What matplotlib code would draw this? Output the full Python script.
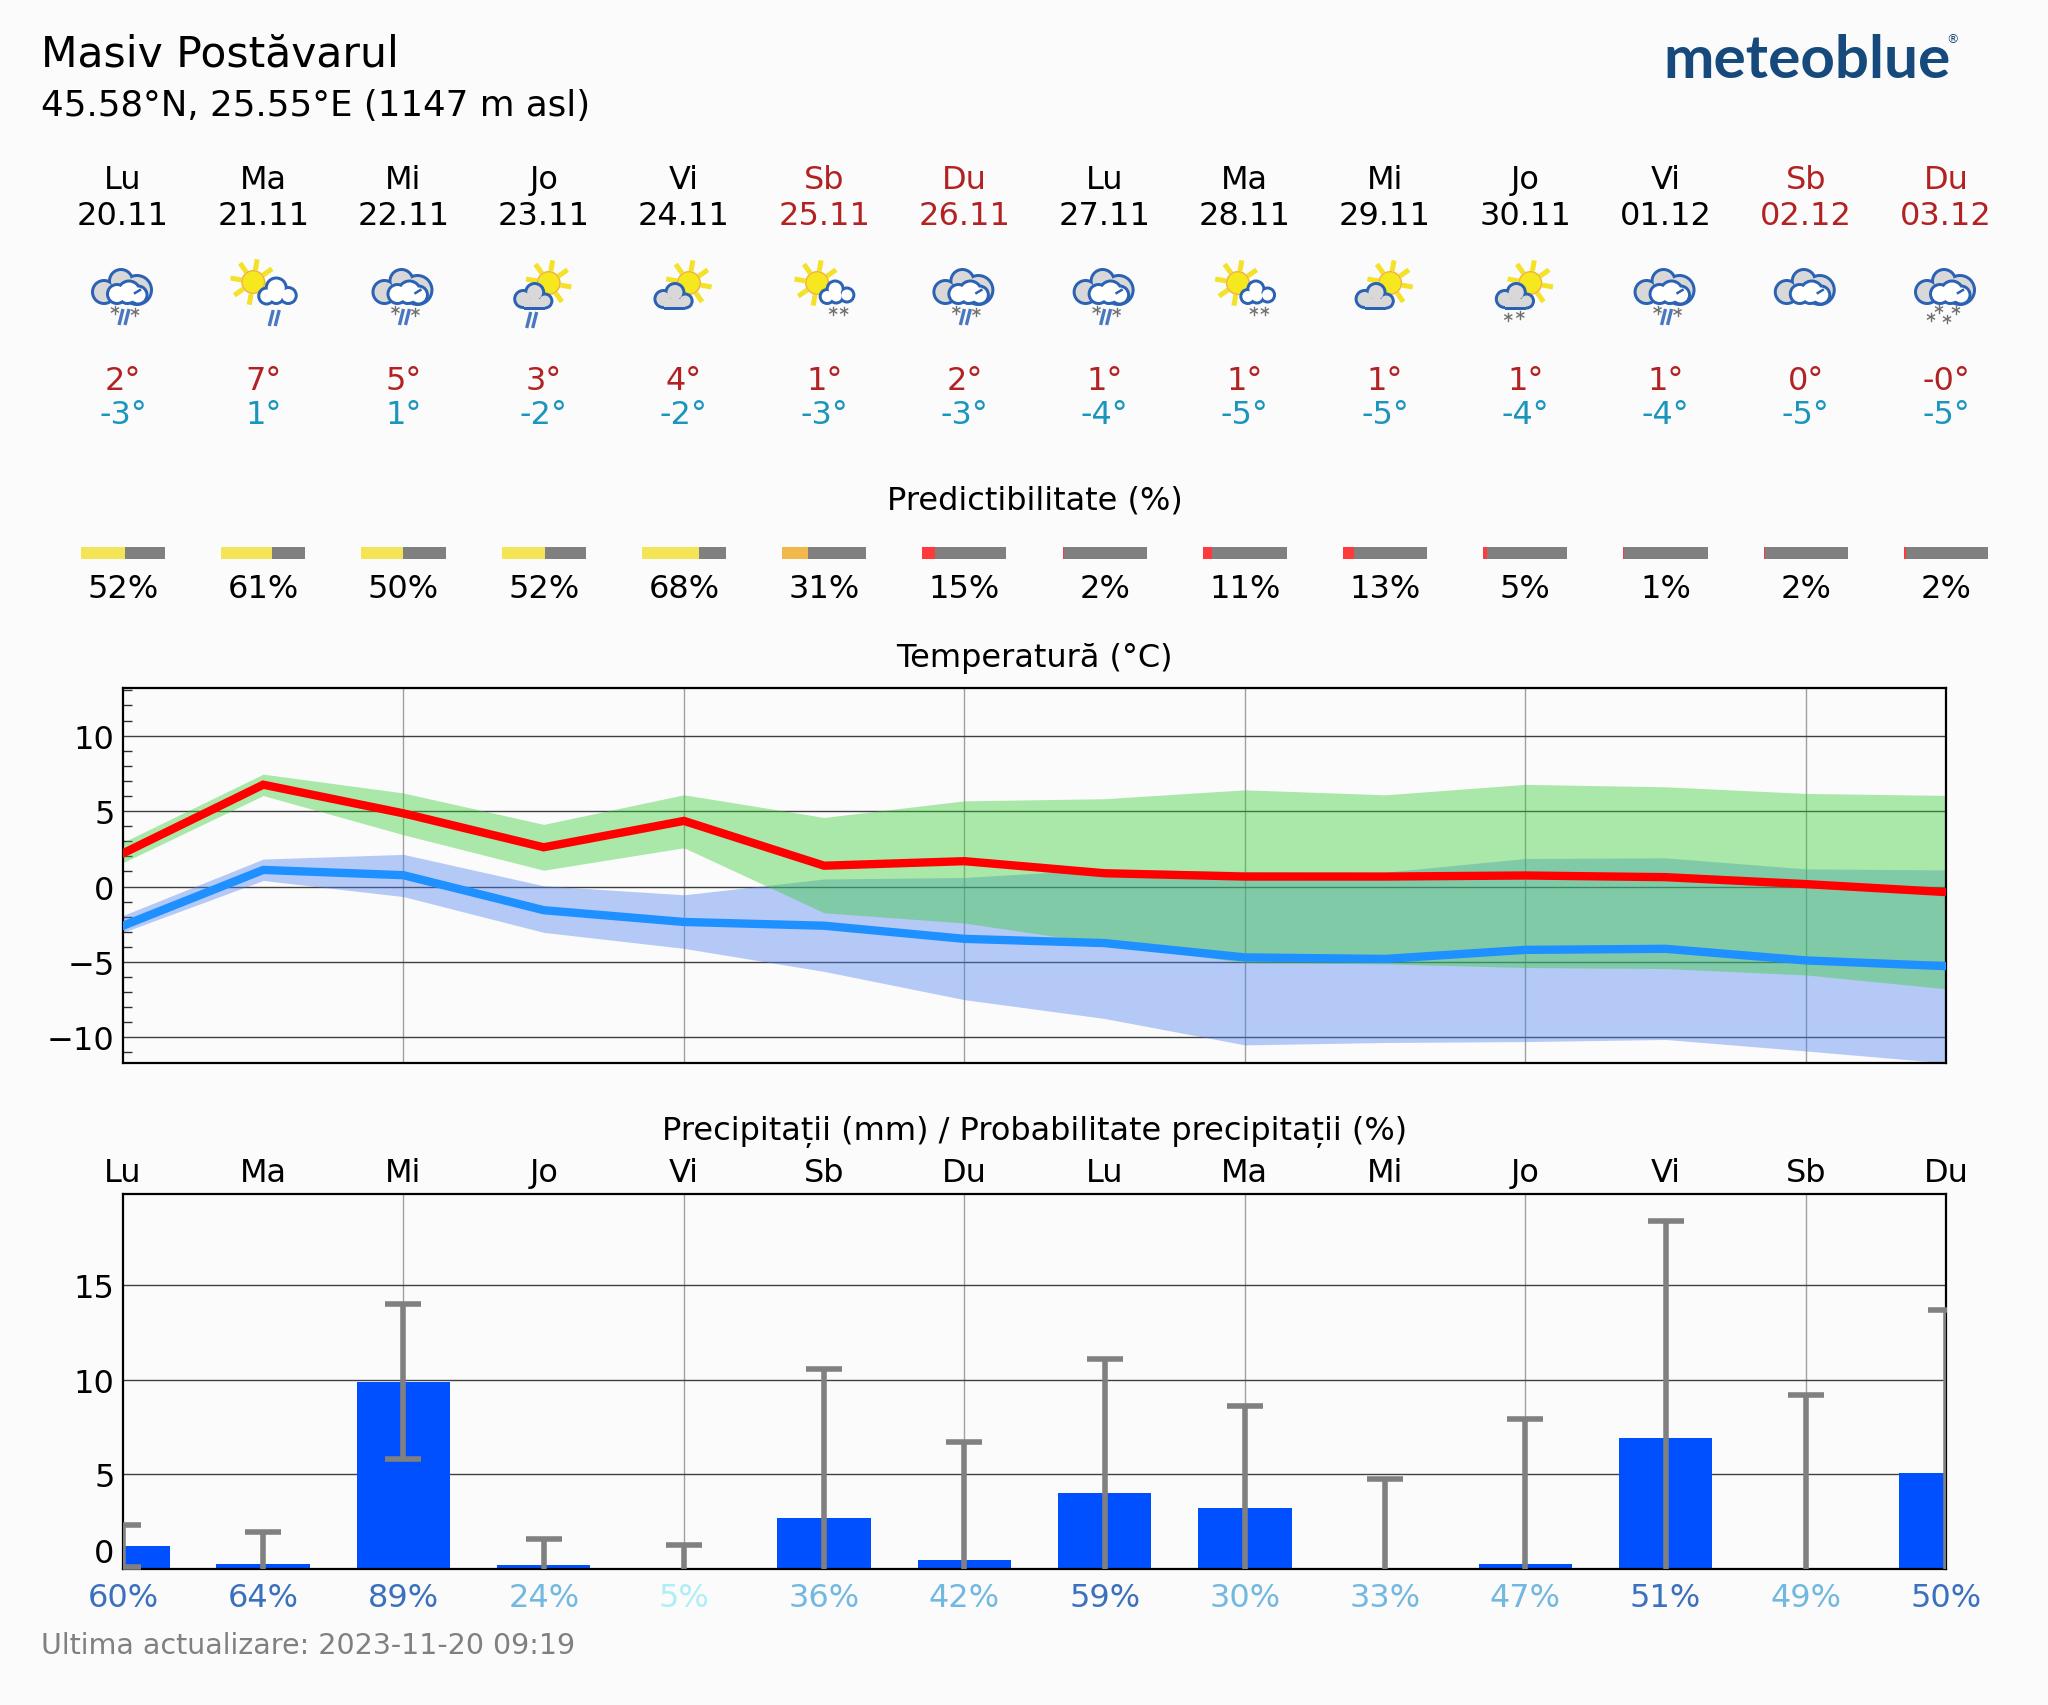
"""Meteogram: 14 day outlook for Masiv Postavarul."""
import numpy as np
import matplotlib
matplotlib.use('Agg')
import matplotlib.pyplot as plt
from matplotlib.patches import Circle, Rectangle
from matplotlib.ticker import MultipleLocator

W_PX, H_PX = 2048, 1706
DPI = 200
LEFT, RIGHT = 123.0, 1946.0
STEP = (RIGHT - LEFT) / 13
BG = '#fbfbfb'

DAY_NAMES = ['Lu', 'Ma', 'Mi', 'Jo', 'Vi', 'Sb', 'Du', 'Lu', 'Ma', 'Mi', 'Jo', 'Vi', 'Sb', 'Du']
DATES = ['20.11', '21.11', '22.11', '23.11', '24.11', '25.11', '26.11',
         '27.11', '28.11', '29.11', '30.11', '01.12', '02.12', '03.12']
ICONS = ['cloud_mix', 'sun_white_rain', 'cloud_mix', 'sun_grey_rain', 'sun_grey', 'sun_white_snow',
         'cloud_mix', 'cloud_mix', 'sun_white_snow', 'sun_grey', 'sun_grey_snow', 'cloud_mix',
         'cloud', 'cloud_snow']
HI_LABELS = ['2°', '7°', '5°', '3°', '4°', '1°', '2°', '1°', '1°', '1°', '1°', '1°', '0°', '-0°']
LO_LABELS = ['-3°', '1°', '1°', '-2°', '-2°', '-3°', '-3°', '-4°', '-5°', '-5°', '-4°', '-4°', '-5°', '-5°']
PREDICT = [52, 61, 50, 52, 68, 31, 15, 2, 11, 13, 5, 1, 2, 2]
PREDICT_COLORS = ['#f4e557'] * 5 + ['#f2b84b'] + ['#ff3a3a'] * 8

T_MAX = [2.2, 6.75, 4.85, 2.6, 4.35, 1.38, 1.68, 0.88, 0.66, 0.66, 0.73, 0.62, 0.16, -0.37]
T_MIN = [-2.6, 1.1, 0.75, -1.57, -2.35, -2.6, -3.47, -3.75, -4.7, -4.8, -4.2, -4.13, -4.9, -5.28]
T_MAX_HI = [2.93, 7.45, 6.2, 4.12, 6.08, 4.58, 5.68, 5.82, 6.41, 6.08, 6.77, 6.61, 6.17, 6.04]
T_MAX_LO = [1.58, 6.03, 3.43, 1.08, 2.57, -1.74, -2.42, -3.8, -5.04, -5.13, -5.37, -5.44, -5.86, -6.78]
T_MIN_HI = [-1.92, 1.82, 2.13, 0.05, -0.55, 0.5, 0.6, 1.15, 1.0, 0.95, 1.86, 1.9, 1.17, 1.1]
T_MIN_LO = [-3.04, 0.4, -0.67, -3.04, -4.1, -5.63, -7.5, -8.75, -10.5, -10.34, -10.28, -10.14, -10.9, -11.7]

RAIN = [1.2, 0.28, 9.85, 0.19, 0.0, 2.7, 0.48, 4.0, 3.24, 0.0, 0.27, 6.9, 0.0, 5.04]
RAIN_HI = [2.34, 1.97, 13.98, 1.6, 1.27, 10.55, 6.7, 11.1, 8.6, 4.77, 7.92, 18.4, 9.2, 13.7]
RAIN_LO = [0.1, -0.2, 5.78, -0.2, -0.2, -0.2, -0.2, -0.2, -0.2, -0.2, -0.2, -0.2, -0.2, -0.2]
PROB = [60, 64, 89, 24, 5, 36, 42, 59, 30, 33, 47, 51, 49, 50]
PROB_COLORS = ['#3a70bd', '#3a70bd', '#3a70bd', '#72b8e0', '#aeeef7', '#72b8e0', '#72b8e0',
               '#3a70bd', '#72b8e0', '#72b8e0', '#72b8e0', '#3a70bd', '#72b8e0', '#3a70bd']

days = np.arange(len(DAY_NAMES))
GRID_DAYS = [2, 4, 6, 8, 10, 12]
RED = '#b22222'
TEAL = '#1a96bd'
OUT = '#2c62b4'
CLOUD_GREY = '#d8d8d8'

plt.rcParams['font.family'] = ['DejaVu Sans']
plt.rcParams['font.size'] = 11.5

fig = plt.figure(figsize=(W_PX / DPI, H_PX / DPI), dpi=DPI, facecolor=BG)


def px_axes(top, bottom):
    return fig.add_axes([LEFT / W_PX, 1 - bottom / H_PX, (RIGHT - LEFT) / W_PX, (bottom - top) / H_PX],
                        facecolor=BG)


def style_axes(ax):
    ax.set_xlim(0, 13)
    ax.set_axisbelow(True)
    ax.grid(axis='y', color='#404040', lw=0.5)
    for d in GRID_DAYS:
        ax.axvline(d, color='#a0a0a0', lw=0.5, zorder=0.5)
    ax.tick_params(axis='y', which='major', length=0, pad=3)
    for spine in ax.spines.values():
        spine.set_linewidth(0.8)


# Temperature
ax_t = px_axes(688.7, 1063.7)
style_axes(ax_t)
ax_t.set_ylim(-11.68, 13.18)
ax_t.set_yticks([-10, -5, 0, 5, 10])
ax_t.yaxis.set_minor_locator(MultipleLocator(1))
ax_t.tick_params(axis='y', which='minor', direction='in', length=3.3, width=0.5, color='#303030')
ax_t.set_xticks([])
ax_t.fill_between(days, T_MIN_LO, T_MIN_HI, color='#4a80f0', alpha=0.4, lw=0, zorder=1)
ax_t.fill_between(days, T_MAX_LO, T_MAX_HI, color='limegreen', alpha=0.4, lw=0, zorder=1.1)
ax_t.plot(days, T_MIN, color='dodgerblue', lw=3, zorder=3, solid_joinstyle='miter')
ax_t.plot(days, T_MAX, color='red', lw=3, zorder=3.1, solid_joinstyle='miter')

# Precipitation
ax_p = px_axes(1195.2, 1569.9)
style_axes(ax_p)
ax_p.set_ylim(0, 19.79)
ax_p.set_yticks([0, 5, 10, 15])
ax_p.get_yticklabels()[0].set_verticalalignment('bottom')
ax_p.bar(days, RAIN, width=2 / 3, color='#0050ff', zorder=2)
rain = np.array(RAIN)
ax_p.errorbar(days, rain, yerr=[rain - np.array(RAIN_LO), np.array(RAIN_HI) - rain], fmt='none',
              ecolor='#808080', elinewidth=2, capsize=6.5, capthick=2, zorder=3)
ax_p.set_xticks(days, DAY_NAMES)
ax_p.xaxis.tick_top()
ax_p.tick_params(axis='x', length=0, pad=2.2)
for d, p, c in zip(days, PROB, PROB_COLORS):
    ax_p.text(d, -0.077, f'{p}%', color=c, ha='center', va='center',
              transform=ax_p.get_xaxis_transform(), clip_on=False)

# Header, everything above the plots is laid out in pixels
hd = fig.add_axes([0, 0, 1, 1], facecolor='none')
hd.set_xlim(0, W_PX)
hd.set_ylim(H_PX, 0)
hd.axis('off')


def blobs(cx, circles, fill, z, edge=3.0):
    # outline first, then the fill on top, so only the outer edge of the union stays
    for dx, y, r in circles:
        hd.add_patch(Circle((cx + dx, y), r + edge, fc=OUT, ec='none', zorder=z))
    for dx, y, r in circles:
        hd.add_patch(Circle((cx + dx, y), r, fc=fill, ec='none', zorder=z + 0.01))


def big_cloud(cx):
    blobs(cx, [(-19, 293, 10), (-2, 282, 10), (14, 291, 13)], CLOUD_GREY, 3)
    blobs(cx, [(-6, 295, 8), (6, 293, 9.5), (15, 296, 7.5), (4, 297, 6)], 'white', 3.2)
    hd.plot([cx + 12, cx + 17], [294, 291], color=OUT, lw=0.9, zorder=3.3)


def small_cloud(cx, fill):
    blobs(cx, [(-20.5, 300, 7), (-9, 293.5, 7.5), (1.2, 302, 5.5)], fill, 3.5)
    hd.add_patch(Rectangle((cx - 20, 303), 21, 7.5, fc=OUT, ec='none', zorder=3.5))
    hd.add_patch(Rectangle((cx - 20, 300), 21, 7.6, fc=fill, ec='none', zorder=3.51))


def sun(cx, cy):
    for a in np.deg2rad(np.arange(-80, 280, 45)):
        hd.plot([cx + 12 * np.cos(a), cx + 23 * np.cos(a)], [cy + 12 * np.sin(a), cy + 23 * np.sin(a)],
                color='#f3e228', lw=1.8, solid_capstyle='butt', zorder=2)
    hd.add_patch(Circle((cx, cy), 11.3, fc='#f5e81f', ec='#f2b040', lw=0.5, zorder=2.1))


def rain_marks(cx, cy):
    for dx in (0, 6):
        hd.plot([cx + dx + 2, cx + dx - 2], [cy, cy + 16], color='#4a78c0', lw=1.2,
                solid_capstyle='butt', zorder=4)


def flake(cx, cy):
    for a in np.deg2rad([90, 30, 150]):
        hd.plot([cx - 4 * np.cos(a), cx + 4 * np.cos(a)], [cy - 4 * np.sin(a), cy + 4 * np.sin(a)],
                color='#707070', lw=0.5, zorder=4)


def draw_icon(cx, kind):
    if kind.startswith('cloud'):
        big_cloud(cx)
        if kind == 'cloud_mix':
            rain_marks(cx - 2, 310)
            flake(cx - 8, 311)
            flake(cx + 12, 313)
        elif kind == 'cloud_snow':
            for dx, y in [(-7, 310), (10, 311), (-15, 318), (1, 320)]:
                flake(cx + dx, y)
    elif kind == 'sun_white_rain':
        sun(cx - 10, 283)
        blobs(cx, [(3.5, 297, 6.5), (13, 289, 8.5), (25, 296.5, 6.5), (13, 297, 6)], 'white', 3)
        rain_marks(cx + 8, 311)
    elif kind == 'sun_white_snow':
        sun(cx - 7, 284)
        blobs(cx, [(3, 297.5, 5.5), (11, 290, 6.5), (22.7, 296, 5.5), (12, 297, 5.5)], 'white', 3)
        flake(cx + 9, 312)
        flake(cx + 20, 312)
    else:
        sun(cx + 5, 284)
        small_cloud(cx, CLOUD_GREY)
        if kind.endswith('rain'):
            rain_marks(cx - 15, 313)
        elif kind.endswith('snow'):
            flake(cx - 17, 318)
            flake(cx - 5, 316)


for i, (name, date, icon, hi, lo) in enumerate(zip(DAY_NAMES, DATES, ICONS, HI_LABELS, LO_LABELS)):
    cx = LEFT + i * STEP
    col = RED if name in ('Sb', 'Du') else 'black'
    hd.text(cx, 180, name, color=col, ha='center', va='center')
    hd.text(cx, 216.5, date, color=col, ha='center', va='center')
    draw_icon(cx, icon)
    hd.text(cx, 381.5, hi, color=RED, ha='center', va='center')
    hd.text(cx, 415, lo, color=TEAL, ha='center', va='center')

# Predictability strip
bar_w = 0.6 * STEP
for i, (p, c) in enumerate(zip(PREDICT, PREDICT_COLORS)):
    cx = LEFT + i * STEP
    hd.barh(554, bar_w, left=cx - bar_w / 2, height=11.5, color='#808080', lw=0)
    hd.barh(554, bar_w * p / 100, left=cx - bar_w / 2, height=11.5, color=c, lw=0)
    hd.text(cx, 589, f'{p}%', ha='center', va='center')

mid = (LEFT + RIGHT) / 2
hd.text(mid, 501, 'Predictibilitate (%)', ha='center', va='center')
hd.text(mid, 658, 'Temperatură (°C)', ha='center', va='center')
hd.text(mid, 1131.5, 'Precipitații (mm) / Probabilitate precipitații (%)', ha='center', va='center')
hd.text(41, 54, 'Masiv Postăvarul', fontsize=15.3, ha='left', va='center')
hd.text(41, 105.5, '45.58°N, 25.55°E (1147 m asl)', fontsize=12.85, ha='left', va='center')
hd.text(41, 1646, 'Ultima actualizare: 2023-11-20 09:19', fontsize=10.25, color='#808080', ha='left', va='center')
hd.text(1663, 78, 'meteoblue', fontsize=21.7, color='#174a7c', family='Lato', weight='bold', ha='left', va='baseline')
hd.text(1953, 40, '®', fontsize=4.5, color='#174a7c', ha='center', va='center')

fig.savefig('out.png', dpi=DPI, facecolor=BG)
